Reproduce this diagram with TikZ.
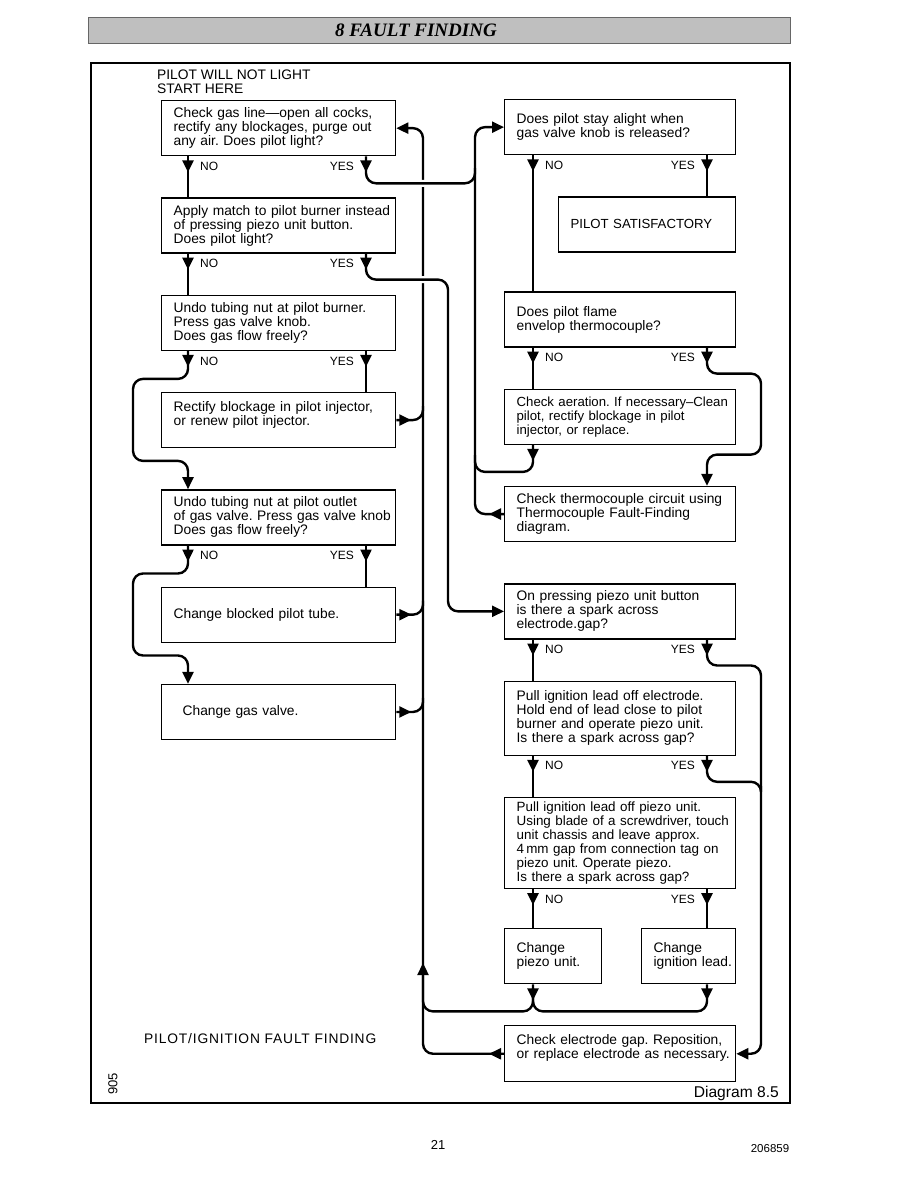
\documentclass[tikz,border=0pt]{standalone}
\usepackage{fontspec}
\setmainfont{Liberation Sans}
\newfontfamily\headfont{Liberation Serif}
\usetikzlibrary{positioning, arrows.meta, decorations.markings, backgrounds}
\newcommand{\boxfont}{\fontsize{13.8}{14}\selectfont}
\frenchspacing

\begin{document}
\begin{tikzpicture}[
  x=1pt, y=-1pt,
  node distance=41pt,
  lbox/.style={draw, line width=1.3pt, minimum width=234pt, minimum height=55pt, text width=226pt, inner xsep=4pt, inner ysep=3pt, align=left, font=\boxfont,
    execute at begin node={\leftskip=8pt\rightskip=0pt plus 1fil minus 30pt}},
  rbox/.style={lbox, minimum width=231pt, text width=223pt},
  txt/.style={inner sep=0pt, font=\boxfont, align=left},
  lbl/.style={inner sep=0pt, font=\fontsize{12}{12}\selectfont},
  nolbl/.style={lbl, anchor=west, xshift=12pt, yshift=-10pt},
  yeslbl/.style={lbl, anchor=east, xshift=-12pt, yshift=-10pt},
  conn/.style={line width=2.4pt, rounded corners=10pt},
  endtip/.style={-{Triangle[length=12pt, width=11pt]}},
  tipnear/.style={postaction={decorate, decoration={markings, mark=at position #1 with {\arrow{Triangle[length=12pt, width=11pt]}}}}},
  tipnear/.default=16pt,
  hop/.style={preaction={draw=white, line width=7pt}}
]
\useasboundingbox (0,0) rectangle (918,1188);

\fill[black!25] (88,17) rectangle (790,43);
\draw[black!60, line width=0.8pt] (88,17) rectangle (790,43);
\node[font=\headfont\fontsize{19}{19}\selectfont\bfseries\itshape] (title) at (416,30) {8 FAULT FINDING};
\draw[line width=1.2pt] (91,63) rectangle (790,1103);

\node[txt, anchor=west] (start) at (157,82) {PILOT WILL NOT LIGHT\\START HERE};

\node[lbox, anchor=north west] (L1) at (161,100) {Check gas line—open all cocks,\\rectify any blockages, purge out\\any air. Does pilot light?};
\node[lbox, below=of L1] (L2) {Apply match to pilot burner instead\\of pressing piezo unit button.\\Does pilot light?};
\node[lbox, below=of L2] (L3) {Undo tubing nut at pilot burner.\\Press gas valve knob.\\Does gas flow freely?};
\node[lbox, below=of L3] (L4) {Rectify blockage in pilot injector,\\or renew pilot injector.\\\mbox{}};
\node[lbox, below=of L4] (L5) {Undo tubing nut at pilot outlet\\of gas valve. Press gas valve knob\\Does gas flow freely?};
\node[lbox, below=of L5] (L6) {Change blocked pilot tube.};
\node[lbox, below=of L6, execute at begin node={\leftskip=17pt}] (L7) {Change gas valve.};

\node[rbox, anchor=north west] (R1) at (504,99) {Does pilot stay alight when\\gas valve knob is released?};
\node[rbox, minimum width=177pt, text width=169pt, font=\fontsize{13.2}{14}\selectfont, below=of R1.south east, anchor=north east] (R2) {PILOT SATISFACTORY};
\node[rbox, below=136pt of R1] (R3) {Does pilot flame\\envelop thermocouple?};
\node[rbox, font=\fontsize{13.2}{14}\selectfont, below=of R3] (R4) {Check aeration. If necessary–Clean\\pilot, rectify blockage in pilot\\injector, or replace.};
\node[rbox, below=of R4] (R5) {Check thermocouple circuit using\\Thermocouple Fault-Finding\\diagram.};
\node[rbox, below=of R5] (R6) {On pressing piezo unit button\\is there a spark across\\electrode.gap?};
\node[rbox, minimum height=74pt, below=of R6] (R7) {Pull ignition lead off electrode.\\Hold end of lead close to pilot\\burner and operate piezo unit.\\Is there a spark across gap?};
\node[rbox, minimum height=91pt, font=\fontsize{13.4}{14}\selectfont, below=of R7] (R8) {Pull ignition lead off piezo unit.\\Using blade of a screwdriver, touch\\unit chassis and leave approx.\\4\,mm gap from connection tag on\\piezo unit. Operate piezo.\\Is there a spark across gap?};
\node[rbox, minimum width=97pt, text width=89pt, below=39pt of R8.south west, anchor=north west] (R9a) {Change\\piezo unit.};
\node[rbox, minimum width=94pt, text width=86pt, below=39pt of R8.south east, anchor=north east] (R9b) {Change\\ignition lead.};
\node[rbox, minimum height=56pt, below=136pt of R8] (R10) {Check electrode gap. Reposition,\\or replace electrode as necessary.\\\mbox{}};

\coordinate (lno) at (188,0);
\coordinate (lyes) at (366,0);
\coordinate (rno) at (533,0);
\coordinate (ryes) at (707,0);
\coordinate (xa) at (423,0);
\coordinate (xb) at (448,0);
\coordinate (xc) at (475,0);
\coordinate (xd) at (761,0);
\coordinate (j1) at (475,168);
\coordinate (j4r) at (475,455);
\coordinate (j7) at (761,786);
\coordinate (j9) at (533,988);
\coordinate (up) at (423,963);
\coordinate[yshift=14pt] (jl4) at (L4.east -| xa);
\coordinate[yshift=14pt] (jl6) at (L6.east -| xa);
\coordinate[yshift=14pt] (jl7) at (L7.east -| xa);

\begin{scope}[on background layer]
\draw[conn, endtip, tipnear=15pt] (R10.west) -- (R10.west -| xa) -- (L1.east -| xa) -- (L1.east);
\draw[conn, tipnear, hop] (L1.south -| lyes) -- ++(0,27) -| (j1);
\draw[conn, endtip, tipnear, hop] (L2.south -| lyes) -- ++(0,26) -| (R6.west -| xb) -- (R6.west);
\draw[conn, endtip, tipnear=15pt] (R5.west) -- (R5.west -| xc) -- (R1.west -| xc) -- (R1.west);
\draw[conn, tipnear] (R4.south -| rno) -- ++(0,27) -| (j4r);

\draw[conn, tipnear] (L1.south -| lno) -- (L2.north -| lno);
\draw[conn, tipnear] (L2.south -| lno) -- (L3.north -| lno);
\draw[conn, tipnear] (L3.south -| lyes) -- (L4.north -| lyes);
\draw[conn, tipnear] (L5.south -| lyes) -- (L6.north -| lyes);
\draw[conn, endtip, tipnear] (L3.south -| lno) -- ++(0,28) -- ++(-55,0) -- ++(0,82) -- ++(55,0) -- (L5.north -| lno);
\draw[conn, endtip, tipnear] (L5.south -| lno) -- ++(0,28) -- ++(-55,0) -- ++(0,82) -- ++(55,0) -- (L7.north -| lno);
\draw[conn, tipnear=15pt] (L4.east) -| (jl4);
\draw[conn, tipnear=15pt] (L6.east) -| (jl6);
\draw[conn, tipnear=15pt] (L7.east) -| (jl7);

\draw[conn, tipnear] (R1.south -| rno) -- (R3.north -| rno);
\draw[conn, tipnear] (R1.south -| ryes) -- (R2.north -| ryes);
\draw[conn, tipnear] (R3.south -| rno) -- (R4.north -| rno);
\draw[conn, endtip, tipnear] (R3.south -| ryes) -- ++(0,26) -- ++(54,0) -- ++(0,81) -- ++(-54,0) -- (R5.north -| ryes);
\draw[conn, tipnear] (R6.south -| rno) -- (R7.north -| rno);
\draw[conn, endtip, tipnear] (R6.south -| ryes) -- ++(0,26) -| (R10.east -| xd) -- (R10.east);
\draw[conn, tipnear] (R7.south -| rno) -- (R8.north -| rno);
\draw[conn, tipnear] (R7.south -| ryes) -- ++(0,26) -| (j7);
\draw[conn, tipnear] (R8.south -| rno) -- (R9a.north -| rno);
\draw[conn, tipnear] (R8.south -| ryes) -- (R9b.north -| ryes);
\draw[conn, endtip, tipnear] (R9a.south -| rno) -- ++(0,27) -| (up);
\draw[conn, tipnear] (R9b.south -| ryes) -- ++(0,27) -| (j9);
\end{scope}

\node[nolbl] (l1n) at (L1.south -| lno) {NO};
\node[yeslbl] (l1y) at (L1.south -| lyes) {YES};
\node[nolbl] (l2n) at (L2.south -| lno) {NO};
\node[yeslbl] (l2y) at (L2.south -| lyes) {YES};
\node[nolbl] (l3n) at (L3.south -| lno) {NO};
\node[yeslbl] (l3y) at (L3.south -| lyes) {YES};
\node[nolbl] (l5n) at (L5.south -| lno) {NO};
\node[yeslbl] (l5y) at (L5.south -| lyes) {YES};
\node[nolbl] (r1n) at (R1.south -| rno) {NO};
\node[yeslbl] (r1y) at (R1.south -| ryes) {YES};
\node[nolbl] (r3n) at (R3.south -| rno) {NO};
\node[yeslbl] (r3y) at (R3.south -| ryes) {YES};
\node[nolbl] (r6n) at (R6.south -| rno) {NO};
\node[yeslbl] (r6y) at (R6.south -| ryes) {YES};
\node[nolbl] (r7n) at (R7.south -| rno) {NO};
\node[yeslbl] (r7y) at (R7.south -| ryes) {YES};
\node[nolbl] (r8n) at (R8.south -| rno) {NO};
\node[yeslbl] (r8y) at (R8.south -| ryes) {YES};

\node[txt, anchor=west] (foot) at (144,1039) {\addfontfeature{LetterSpace=6}PILOT/IGNITION FAULT FINDING};
\node[txt, rotate=90, font=\fontsize{13}{13}\selectfont] (code) at (113,1084) {905};
\node[txt, anchor=east, font=\fontsize{15.6}{16}\selectfont] (diag) at (779,1093) {Diagram 8.5};
\node[txt, font=\fontsize{13}{13}\selectfont] (page) at (438,1145) {21};
\node[txt, font=\fontsize{11.5}{12}\selectfont] (docno) at (770,1149) {206859};
\end{tikzpicture}
\end{document}
